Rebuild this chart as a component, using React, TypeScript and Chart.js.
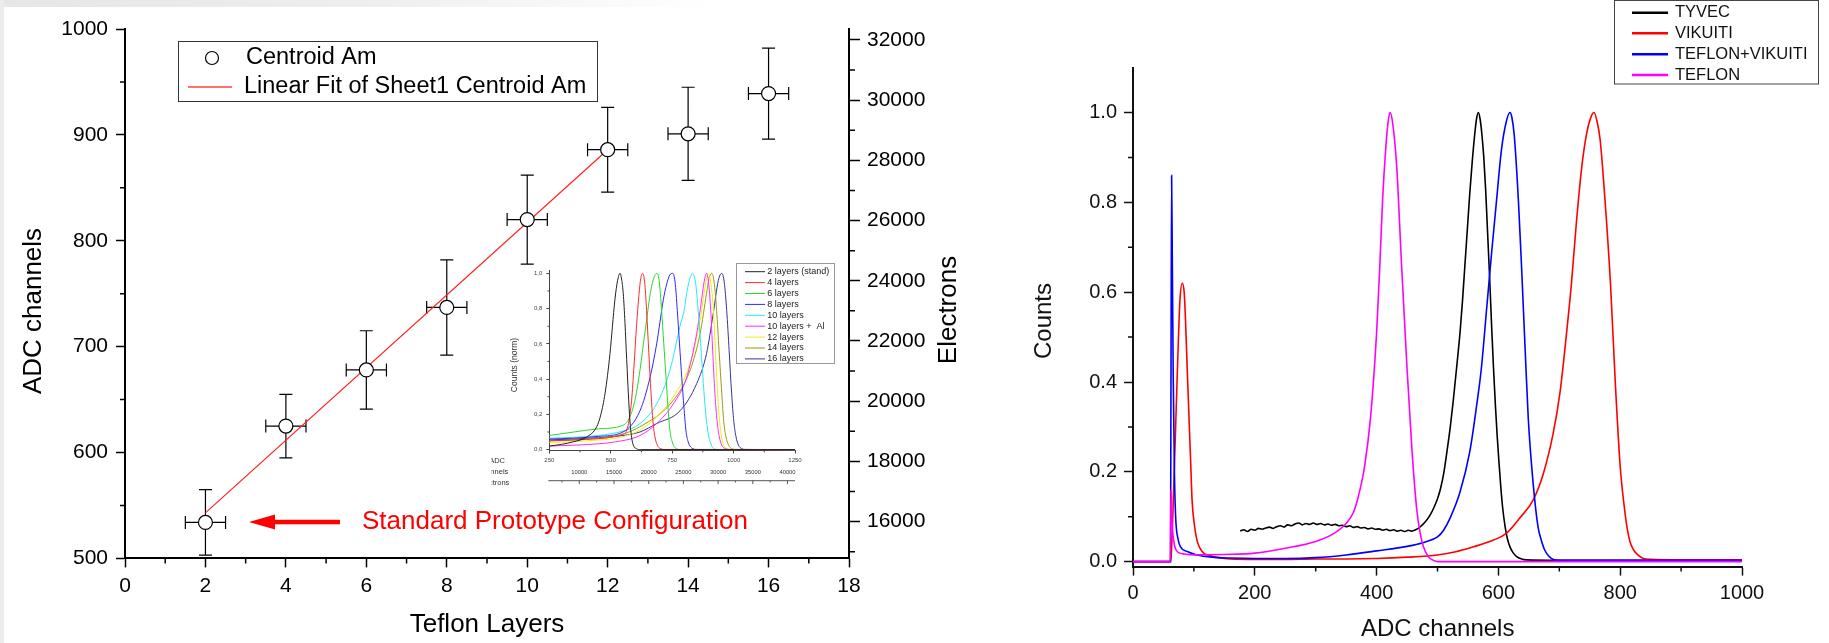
import React, { useEffect, useRef } from 'react';
import { Chart, registerables } from 'chart.js';

Chart.register(...registerables);

const FONT = '"Liberation Sans", Arial, Helvetica, sans-serif';

// ---------------- Left chart: centroid vs Teflon layers ----------------
const teflonLayers = [2, 4, 6, 8, 10, 12, 14, 16];
const centroidAm = [534, 625, 678, 737, 820, 886, 901, 939];
const centroidErr = [31, 30, 37, 45, 42, 40, 44, 43];
const layersErr = [0.5, 0.5, 0.5, 0.5, 0.5, 0.5, 0.5, 0.5];
const fitLayers = [2, 12];
const fitCentroid = [543, 886];
const layerTicks = [0, 2, 4, 6, 8, 10, 12, 14, 16, 18];
const layerMinor = [1, 3, 5, 7, 9, 11, 13, 15, 17];
const adcLeftTicks = [500, 600, 700, 800, 900, 1000];
const adcLeftMinor = [550, 650, 750, 850, 950];
const electronTicks = [16000, 18000, 20000, 22000, 24000, 26000, 28000, 30000, 32000];
const electronMinor = [15000, 17000, 19000, 21000, 23000, 25000, 27000, 29000, 31000];
const electronRange = [14780, 32360];

// ---------------- Inset: normalized spectra for layer counts ----------------
const insetLabels = ['2 layers (stand)', '4 layers', '6 layers', '8 layers', '10 layers', '10 layers +  Al', '12 layers', '14 layers', '16 layers'];
const insetColors = ['#222222', '#ff2a2a', '#2ad82a', '#2a2aff', '#2ae8ee', '#ff2aff', '#eeee10', '#9a9a10', '#34349a'];
const l2X = [250, 300, 350, 400, 443, 460, 477, 497, 507, 517, 528, 538, 545, 551, 558, 565, 572, 578, 585, 592, 605, 620, 1250];
const l2Y = [0.02, 0.03, 0.045, 0.07, 0.13, 0.2, 0.32, 0.545, 0.7, 0.85, 0.96, 1.0, 0.96, 0.886, 0.72, 0.51, 0.31, 0.167, 0.07, 0.025, 0.005, 0, 0];
const l4X = [250, 350, 450, 520, 545, 565, 585, 595, 605, 615, 622, 630, 638, 646, 655, 664, 672, 680, 690, 700, 720, 1250];
const l4Y = [0.05, 0.055, 0.062, 0.075, 0.085, 0.11, 0.28, 0.48, 0.7, 0.88, 0.97, 1.0, 0.95, 0.79, 0.55, 0.32, 0.16, 0.072, 0.025, 0.008, 0.001, 0];
const l6X = [250, 350, 450, 550, 578, 600, 619, 633, 646, 656, 666, 677, 687, 697, 707, 716, 725, 733, 741, 750, 762, 780, 1250];
const l6Y = [0.08, 0.1, 0.118, 0.138, 0.186, 0.29, 0.45, 0.6, 0.735, 0.84, 0.924, 0.98, 1.0, 0.96, 0.79, 0.6, 0.41, 0.24, 0.11, 0.045, 0.011, 0.001, 0];
const l8X = [250, 350, 450, 550, 619, 660, 687, 700, 714, 728, 740, 752, 762, 771, 780, 789, 798, 806, 815, 829, 850, 1250];
const l8Y = [0.06, 0.065, 0.075, 0.1, 0.22, 0.41, 0.6, 0.72, 0.85, 0.94, 0.99, 1.0, 0.95, 0.79, 0.6, 0.41, 0.24, 0.11, 0.045, 0.01, 0.001, 0];
const l10X = [250, 350, 450, 500, 550, 619, 687, 741, 782, 800, 809, 822, 833, 845, 856, 866, 877, 887, 897, 907, 917, 935, 1250];
const l10Y = [0.065, 0.07, 0.08, 0.09, 0.105, 0.148, 0.26, 0.45, 0.7, 0.8, 0.886, 0.97, 1.0, 0.95, 0.79, 0.6, 0.375, 0.2, 0.09, 0.035, 0.01, 0.001, 0];
const l10AlX = [250, 350, 450, 500, 619, 687, 755, 809, 850, 865, 877, 884, 890, 898, 907, 915, 924, 933, 942, 952, 965, 985, 1250];
const l10AlY = [0.02, 0.025, 0.033, 0.04, 0.08, 0.148, 0.26, 0.41, 0.66, 0.8, 0.924, 0.98, 1.0, 0.95, 0.79, 0.56, 0.32, 0.16, 0.072, 0.025, 0.006, 0.001, 0];
const l12X = [250, 350, 450, 500, 619, 687, 755, 823, 864, 876, 884, 891, 897, 907, 918, 926, 935, 943, 951, 960, 972, 990, 1250];
const l12Y = [0.04, 0.045, 0.055, 0.06, 0.11, 0.186, 0.3, 0.49, 0.735, 0.85, 0.924, 0.98, 1.0, 0.95, 0.79, 0.56, 0.32, 0.16, 0.072, 0.025, 0.006, 0.001, 0];
const l14X = [250, 350, 450, 500, 619, 755, 823, 864, 890, 900, 911, 921, 931, 941, 952, 960, 969, 980, 992, 1010, 1250];
const l14Y = [0.05, 0.055, 0.065, 0.07, 0.13, 0.28, 0.45, 0.66, 0.886, 0.97, 1.0, 0.95, 0.79, 0.56, 0.32, 0.16, 0.072, 0.025, 0.006, 0.001, 0];
const l16X = [250, 350, 450, 550, 619, 687, 782, 850, 890, 917, 938, 952, 962, 972, 982, 992, 1001, 1010, 1020, 1033, 1050, 1250];
const l16Y = [0.055, 0.06, 0.068, 0.08, 0.1, 0.148, 0.22, 0.375, 0.545, 0.77, 0.96, 1.0, 0.95, 0.79, 0.56, 0.32, 0.16, 0.072, 0.025, 0.006, 0.001, 0];
const insetAdcTicks = [250, 500, 750, 1000, 1250];
const insetAdcMinor = [375, 625, 875, 1125];
const insetCountTicks = [0, 0.2, 0.4, 0.6, 0.8, 1.0];
const insetCountMinor = [0.1, 0.3, 0.5, 0.7, 0.9];
const insetElectronTicks = [10000, 15000, 20000, 25000, 30000, 35000, 40000];
const insetElectronMinor = [7500, 12500, 17500, 22500, 27500, 32500, 37500];
const insetElectronRange = [5680, 41080];

// ---------------- Right chart: reflector spectra ----------------
const tyvecX = [176, 182, 188, 194, 200, 206, 212, 218, 224, 230, 236, 242, 248, 254, 260, 266, 272, 278, 284, 290, 296, 302, 308, 314, 320, 326, 332, 338, 344, 350, 356, 362, 368, 374, 380, 386, 392, 398, 404, 410, 416, 422, 428, 434, 440, 446, 452, 458,
  464, 470, 476, 482, 488, 494, 500, 505, 510, 515, 521, 526, 532, 537, 541, 545, 549, 553, 557, 561, 564, 567, 570, 573, 576, 579, 582, 586, 589, 592, 595, 598, 601, 604, 607, 611, 615, 619, 624, 630, 638, 646, 700, 800, 1000];
const tyvecY = [0.068, 0.071, 0.067, 0.072, 0.070, 0.074, 0.072, 0.075, 0.077, 0.074, 0.078, 0.080, 0.077, 0.082, 0.080, 0.084, 0.086, 0.082, 0.085, 0.083, 0.086, 0.083, 0.085, 0.082, 0.084, 0.081, 0.083, 0.080, 0.081, 0.078, 0.080, 0.076, 0.078, 0.075, 0.076, 0.073, 0.075, 0.072, 0.073, 0.070, 0.072, 0.069, 0.071, 0.068, 0.070, 0.067, 0.070, 0.068,
  0.071, 0.076, 0.083, 0.092, 0.104, 0.12, 0.14, 0.163, 0.195, 0.24, 0.3, 0.36, 0.44, 0.51, 0.58, 0.66, 0.74, 0.82, 0.89, 0.95, 0.985, 1.0, 0.985, 0.95, 0.9, 0.83, 0.74, 0.62, 0.52, 0.43, 0.35, 0.28, 0.22, 0.165, 0.12, 0.078, 0.05, 0.033, 0.02, 0.011, 0.006, 0.004, 0.003, 0.003, 0.003];
const vikuitiX = [0, 62, 64, 67, 70, 73, 77, 81, 84, 86, 89, 92, 95, 97, 101, 105, 110, 116, 127, 140, 160, 200, 250, 300, 350, 400, 450, 500, 530, 559, 592, 613, 635, 657, 674, 690, 701, 712, 720, 728, 737, 745, 752, 757, 762, 767, 775, 784, 792, 800, 806, 811, 816, 822, 830, 838, 850, 900, 1000];
const vikuitiY = [0, 0, 0.05, 0.17, 0.3, 0.43, 0.58, 0.62, 0.6, 0.546, 0.43, 0.32, 0.21, 0.137, 0.08, 0.048, 0.03, 0.019, 0.013, 0.009, 0.006, 0.005, 0.005, 0.006, 0.006, 0.007, 0.01, 0.015, 0.022, 0.033, 0.048, 0.063, 0.097, 0.137, 0.197, 0.286, 0.375, 0.51, 0.62, 0.754, 0.88, 0.954, 0.99, 1.0, 0.98, 0.94, 0.806, 0.62, 0.397, 0.212, 0.13, 0.078, 0.045, 0.026, 0.014, 0.007, 0.005, 0.004, 0.004];
const teflonVikuitiX = [0, 61.5, 62.3, 63.4, 64.5, 66, 68, 70, 74, 78, 90, 105, 130, 160, 200, 250, 300, 350, 400, 450, 480, 500, 510, 521, 537, 553, 564, 572, 581, 589, 597, 605, 613, 619, 622, 626, 633, 638, 644, 649, 657, 665, 670, 676, 683, 690, 700, 1000];
const teflonVikuitiY = [0, 0, 0.35, 0.86, 0.68, 0.42, 0.2, 0.1, 0.05, 0.033, 0.022, 0.015, 0.01, 0.008, 0.007, 0.007, 0.009, 0.015, 0.024, 0.034, 0.044, 0.055, 0.07, 0.098, 0.155, 0.245, 0.345, 0.43, 0.568, 0.69, 0.805, 0.917, 0.98, 1.0, 0.99, 0.95, 0.8, 0.657, 0.47, 0.32, 0.175, 0.078, 0.05, 0.026, 0.012, 0.005, 0.003, 0.003];
const teflonX = [0, 61.5, 62.3, 64, 67, 70, 75, 85, 100, 150, 200, 250, 300, 330, 350, 362, 370, 380, 390, 400, 405, 410, 415, 419, 422, 426, 433, 441, 450, 458, 466, 472, 477, 483, 488, 495, 502, 1000];
const teflonY = [0, 0, 0.16, 0.09, 0.045, 0.028, 0.02, 0.017, 0.015, 0.016, 0.019, 0.03, 0.045, 0.063, 0.085, 0.11, 0.145, 0.21, 0.32, 0.51, 0.65, 0.81, 0.92, 0.98, 1.0, 0.98, 0.88, 0.66, 0.43, 0.25, 0.115, 0.06, 0.033, 0.015, 0.007, 0.002, 0, 0];
const rightAdcTicks = [0, 200, 400, 600, 800, 1000];
const rightAdcMinor = [100, 300, 500, 700, 900];
const countTicks = [0, 0.2, 0.4, 0.6, 0.8, 1.0];
const countMinor = [0.1, 0.3, 0.5, 0.7, 0.9];

// ---------------- helpers ----------------
function pts(xs: number[], ys: number[]) {
  return xs.map((x, i) => ({ x, y: ys[i] }));
}

function fixedTicks(values: number[]) {
  return (s: any) => {
    s.ticks = values.map((v) => ({ value: v }));
  };
}

function drawText(ctx: any, str: string, x: number, y: number, size: number, color: string, align: string = 'center', rotate: number = 0) {
  ctx.save();
  ctx.font = `${size}px ${FONT}`;
  ctx.fillStyle = color;
  ctx.textAlign = align;
  ctx.textBaseline = 'middle';
  ctx.translate(x, y);
  if (rotate) ctx.rotate(rotate);
  ctx.fillText(str, 0, 0);
  ctx.restore();
}

function minorTicks(specs: { axis: string; values: number[]; len: number; width: number; color: string }[]) {
  return {
    id: 'minorTicks',
    afterDraw(chart: any) {
      const ctx = chart.ctx;
      ctx.save();
      for (const s of specs) {
        const sc = chart.scales[s.axis];
        ctx.strokeStyle = s.color;
        ctx.lineWidth = s.width;
        ctx.beginPath();
        for (const v of s.values) {
          const p = sc.getPixelForValue(v);
          if (sc.position === 'bottom') {
            ctx.moveTo(p, sc.top);
            ctx.lineTo(p, sc.top + s.len);
          } else if (sc.position === 'left') {
            ctx.moveTo(sc.right, p);
            ctx.lineTo(sc.right - s.len, p);
          } else {
            ctx.moveTo(sc.left, p);
            ctx.lineTo(sc.left + s.len, p);
          }
        }
        ctx.stroke();
      }
      ctx.restore();
    },
  };
}

function axisStyle(size: number, pad: number, tickLen: number, color: string, width: number, tickWidth: number, fmt: (v: number) => string) {
  return {
    ticks: { font: { family: FONT, size }, color, padding: pad, maxRotation: 0, autoSkip: false, callback: (v: any) => fmt(Number(v)) },
    grid: { drawOnChartArea: false, drawTicks: true, tickLength: tickLen, color, tickWidth },
    border: { display: true, color, width },
  };
}

const plain = (v: number) => String(v);

function useChart(makeConfig: () => any) {
  const ref = useRef<HTMLCanvasElement>(null);
  useEffect(() => {
    const chart = new Chart(ref.current as HTMLCanvasElement, makeConfig());
    return () => chart.destroy();
  }, []);
  return ref;
}

// ---------------- Left chart ----------------
const errorBarPlugin = {
  id: 'errorBars',
  beforeDatasetsDraw(chart: any) {
    const { ctx } = chart;
    const x = chart.scales.x;
    const y = chart.scales.y;
    ctx.save();
    ctx.strokeStyle = '#000';
    ctx.lineWidth = 1.2;
    ctx.beginPath();
    teflonLayers.forEach((lx, i) => {
      const px = x.getPixelForValue(lx);
      const py = y.getPixelForValue(centroidAm[i]);
      const yt = y.getPixelForValue(centroidAm[i] + centroidErr[i]);
      const yb = y.getPixelForValue(centroidAm[i] - centroidErr[i]);
      const xl = x.getPixelForValue(lx - layersErr[i]);
      const xr = x.getPixelForValue(lx + layersErr[i]);
      const c = 6.5;
      ctx.moveTo(px, yt); ctx.lineTo(px, yb);
      ctx.moveTo(px - c, yt); ctx.lineTo(px + c, yt);
      ctx.moveTo(px - c, yb); ctx.lineTo(px + c, yb);
      ctx.moveTo(xl, py); ctx.lineTo(xr, py);
      ctx.moveTo(xl, py - c); ctx.lineTo(xl, py + c);
      ctx.moveTo(xr, py - c); ctx.lineTo(xr, py + c);
    });
    ctx.stroke();
    ctx.restore();
  },
};

const leftDecor = {
  id: 'leftDecor',
  afterDraw(chart: any) {
    const { ctx } = chart;
    const ds = chart.data.datasets;
    ctx.save();
    // legend
    ctx.strokeStyle = '#333';
    ctx.lineWidth = 1;
    ctx.strokeRect(178.5, 41.5, 419, 60);
    ctx.beginPath();
    ctx.arc(212, 58, 6.5, 0, Math.PI * 2);
    ctx.fillStyle = '#fff';
    ctx.fill();
    ctx.strokeStyle = '#000';
    ctx.lineWidth = 1.2;
    ctx.stroke();
    ctx.beginPath();
    ctx.strokeStyle = '#ff4040';
    ctx.lineWidth = 1.5;
    ctx.moveTo(188, 87);
    ctx.lineTo(232, 87);
    ctx.stroke();
    ctx.restore();
    drawText(ctx, ds[0].label, 246, 58, 23.5, '#000', 'left');
    drawText(ctx, ds[1].label, 244, 87, 23.5, '#000', 'left');

    // arrow + annotation
    ctx.save();
    ctx.fillStyle = '#ff0000';
    ctx.fillRect(270, 519.8, 70, 4.5);
    ctx.beginPath();
    ctx.moveTo(249, 522);
    ctx.lineTo(275, 514.5);
    ctx.lineTo(275, 529.5);
    ctx.closePath();
    ctx.fill();
    ctx.restore();
    drawText(ctx, 'Standard Prototype Configuration', 362, 522, 26, '#ff0000', 'left');

    // axis titles
    drawText(ctx, 'ADC channels', 34, 311, 26, '#000', 'center', -Math.PI / 2);
    drawText(ctx, 'Teflon Layers', 487, 625, 26, '#000', 'center');
    drawText(ctx, 'Electrons', 949, 310, 26, '#000', 'center', -Math.PI / 2);
  },
};

function LeftChart() {
  const ref = useChart(() => ({
    type: 'line',
    data: {
      datasets: [
        {
          label: 'Centroid Am',
          data: pts(teflonLayers, centroidAm),
          showLine: false,
          pointRadius: 7,
          pointBackgroundColor: '#fff',
          pointBorderColor: '#000',
          pointBorderWidth: 1.2,
          order: 0,
          yAxisID: 'y',
        },
        {
          label: 'Linear Fit of Sheet1 Centroid Am',
          data: pts(fitLayers, fitCentroid),
          borderColor: '#ff2020',
          borderWidth: 1.2,
          pointRadius: 0,
          order: 1,
          yAxisID: 'y',
        },
      ],
    },
    options: {
      responsive: false,
      animation: false,
      devicePixelRatio: 1,
      layout: { padding: { left: 0, right: 0, top: 29, bottom: 0 } },
      plugins: { legend: { display: false }, tooltip: { enabled: false } },
      scales: {
        x: {
          type: 'linear', position: 'bottom', min: 0, max: 18,
          afterBuildTicks: fixedTicks(layerTicks),
          afterFit: (s: any) => { s.height = 643 - 558.4; },
          ...axisStyle(21, 6, 9, '#000', 2, 1.5, plain),
        },
        y: {
          type: 'linear', position: 'left', min: 500, max: 1000,
          afterBuildTicks: fixedTicks(adcLeftTicks),
          afterFit: (s: any) => { s.width = 125; },
          ...axisStyle(21, 8, 9, '#000', 2, 1.5, plain),
        },
        y2: {
          type: 'linear', position: 'right', min: electronRange[0], max: electronRange[1],
          afterBuildTicks: fixedTicks(electronTicks),
          afterFit: (s: any) => { s.width = 151; },
          ...axisStyle(21, 7, 11, '#000', 2, 1.5, plain),
        },
      },
    },
    plugins: [
      errorBarPlugin,
      minorTicks([
        { axis: 'x', values: layerMinor, len: 5, width: 1.5, color: '#000' },
        { axis: 'y', values: adcLeftMinor, len: 5, width: 1.5, color: '#000' },
        { axis: 'y2', values: electronMinor, len: 6, width: 1.5, color: '#000' },
      ]),
      leftDecor,
    ],
  }));
  return <canvas ref={ref} width={1000} height={643} style={{ position: 'absolute', left: 0, top: 0 }} />;
}

// ---------------- Inset ----------------
const insetDecor = {
  id: 'insetDecor',
  afterDraw(chart: any) {
    const { ctx, chartArea } = chart;
    const { left, right } = chartArea;
    const toPx = (e: number) => left + ((e - insetElectronRange[0]) / (insetElectronRange[1] - insetElectronRange[0])) * (right - left);
    insetElectronTicks.forEach((e) => drawText(ctx, String(e), toPx(e), 217.3, 5.8, '#333'));
    ctx.save();
    ctx.strokeStyle = '#555';
    ctx.lineWidth = 1;
    ctx.beginPath();
    ctx.moveTo(left - 1, 225.7);
    ctx.lineTo(right, 225.7);
    insetElectronTicks.forEach((e) => { ctx.moveTo(toPx(e), 225.7); ctx.lineTo(toPx(e), 229); });
    insetElectronMinor.forEach((e) => { ctx.moveTo(toPx(e), 225.7); ctx.lineTo(toPx(e), 227.5); });
    ctx.stroke();
    ctx.restore();
    ctx.save();
    ctx.beginPath();
    ctx.rect(1.5, 195, 60, 40);
    ctx.clip();
    drawText(ctx, 'ADC', 15, 205.7, 7.5, '#333', 'right');
    drawText(ctx, 'channels', 18.3, 217.3, 7.5, '#333', 'right');
    drawText(ctx, 'Electrons', 19.3, 227.7, 7.5, '#333', 'right');
    ctx.restore();
    drawText(ctx, 'Counts (norm)', 25, 110, 8.5, '#333', 'center', -Math.PI / 2);
    ctx.save();
    ctx.fillStyle = '#fff';
    ctx.fillRect(246, 8, 98, 100);
    ctx.strokeStyle = '#999';
    ctx.lineWidth = 1;
    ctx.strokeRect(246.5, 8.5, 98, 100);
    chart.data.datasets.forEach((d: any, i: number) => {
      const yy = 16.7 + i * 10.9;
      ctx.beginPath();
      ctx.strokeStyle = d.borderColor;
      ctx.lineWidth = 1;
      ctx.moveTo(255, yy);
      ctx.lineTo(275, yy);
      ctx.stroke();
    });
    ctx.restore();
    chart.data.datasets.forEach((d: any, i: number) => {
      drawText(ctx, d.label, 277.3, 16.7 + i * 10.9, 9, '#222', 'left');
    });
  },
};

function InsetChart() {
  const series = [[l2X, l2Y], [l4X, l4Y], [l6X, l6Y], [l8X, l8Y], [l10X, l10Y], [l10AlX, l10AlY], [l12X, l12Y], [l14X, l14Y], [l16X, l16Y]];
  const ref = useChart(() => ({
    type: 'line',
    data: {
      datasets: series.map((s, i) => ({
        label: insetLabels[i],
        data: pts(s[0], s[1]),
        borderColor: insetColors[i],
        borderWidth: 1,
        pointRadius: 0,
        cubicInterpolationMode: 'monotone',
      })),
    },
    options: {
      responsive: false,
      animation: false,
      devicePixelRatio: 1,
      layout: { padding: { left: 0, right: 45, top: 15.7, bottom: 0 } },
      plugins: { legend: { display: false }, tooltip: { enabled: false } },
      scales: {
        x: {
          type: 'linear', position: 'bottom', min: 250, max: 1250,
          afterBuildTicks: fixedTicks(insetAdcTicks),
          afterFit: (s: any) => { s.height = 39.5; },
          ...axisStyle(6, 3.5, 3, '#444', 1, 1, plain),
        },
        y: {
          type: 'linear', position: 'left', min: -0.005, max: 1.015,
          afterBuildTicks: fixedTicks(insetCountTicks),
          afterFit: (s: any) => { s.width = 59.3; },
          ...axisStyle(6, 4, 3, '#444', 1, 1, (v) => v.toFixed(1).replace('.', ',')),
        },
      },
    },
    plugins: [
      minorTicks([
        { axis: 'x', values: insetAdcMinor, len: 1.8, width: 1, color: '#444' },
        { axis: 'y', values: insetCountMinor, len: 1.8, width: 1, color: '#444' },
      ]),
      insetDecor,
    ],
  }));
  return <canvas ref={ref} width={350} height={235} style={{ position: 'absolute', left: 490, top: 255 }} />;
}

// ---------------- Right chart ----------------
const rightDecor = {
  id: 'rightDecor',
  afterDraw(chart: any) {
    const { ctx } = chart;
    const rows = [12.7, 33.3, 54.3, 75];
    ctx.save();
    ctx.strokeStyle = '#444';
    ctx.lineWidth = 1;
    ctx.strokeRect(584.5, 0.5, 204, 83.5);
    chart.data.datasets.forEach((d: any, i: number) => {
      ctx.beginPath();
      ctx.strokeStyle = d.borderColor;
      ctx.lineWidth = 2.5;
      ctx.moveTo(602, rows[i]);
      ctx.lineTo(638, rows[i]);
      ctx.stroke();
    });
    ctx.restore();
    chart.data.datasets.forEach((d: any, i: number) => {
      drawText(ctx, d.label, 645, rows[i], 16.5, '#111', 'left');
    });
    drawText(ctx, 'Counts', 14.5, 321, 24, '#111', 'center', -Math.PI / 2);
    drawText(ctx, 'ADC channels', 407.7, 629, 24, '#111', 'center');
  },
};

function RightChart() {
  const ref = useChart(() => ({
    type: 'line',
    data: {
      datasets: [
        { label: 'TYVEC', data: pts(tyvecX, tyvecY), borderColor: '#000000', borderWidth: 1.6, pointRadius: 0, cubicInterpolationMode: 'monotone', order: 3 },
        { label: 'VIKUITI', data: pts(vikuitiX, vikuitiY), borderColor: '#ff0000', borderWidth: 1.6, pointRadius: 0, cubicInterpolationMode: 'monotone', order: 2 },
        { label: 'TEFLON+VIKUITI', data: pts(teflonVikuitiX, teflonVikuitiY), borderColor: '#0000ff', borderWidth: 1.6, pointRadius: 0, cubicInterpolationMode: 'monotone', order: 1 },
        { label: 'TEFLON', data: pts(teflonX, teflonY), borderColor: '#ff00ff', borderWidth: 1.6, pointRadius: 0, cubicInterpolationMode: 'monotone', order: 0 },
      ],
    },
    options: {
      responsive: false,
      animation: false,
      devicePixelRatio: 1,
      layout: { padding: { left: 0, right: 87, top: 67.6, bottom: 0 } },
      plugins: { legend: { display: false }, tooltip: { enabled: false } },
      scales: {
        x: {
          type: 'linear', position: 'bottom', min: 0, max: 1000,
          afterBuildTicks: fixedTicks(rightAdcTicks),
          afterFit: (s: any) => { s.height = 643 - 566.6; },
          ...axisStyle(20, 6, 9, '#111', 2, 1.5, plain),
        },
        y: {
          type: 'linear', position: 'left', min: -0.011, max: 1.1,
          afterBuildTicks: fixedTicks(countTicks),
          afterFit: (s: any) => { s.width = 103; },
          ...axisStyle(20, 7, 9, '#111', 2, 1.5, (v) => v.toFixed(1)),
        },
      },
    },
    plugins: [
      minorTicks([
        { axis: 'x', values: rightAdcMinor, len: 5, width: 1.5, color: '#111' },
        { axis: 'y', values: countMinor, len: 5, width: 1.5, color: '#111' },
      ]),
      rightDecor,
    ],
  }));
  return <canvas ref={ref} width={799} height={643} style={{ position: 'absolute', left: 1030, top: 0 }} />;
}

export default function App() {
  return (
    <div style={{ position: 'fixed', left: 0, top: 0, width: 1829, height: 643, background: '#fff', overflow: 'hidden' }}>
      <div style={{ position: 'absolute', left: 0, top: 0, width: 720, height: 7, background: 'linear-gradient(to right, #e6e6e6, #eeeeee 50%, #ffffff)' }} />
      <div style={{ position: 'absolute', left: 0, top: 0, width: 4, height: 643, background: '#ececec' }} />
      <LeftChart />
      <InsetChart />
      <RightChart />
    </div>
  );
}
